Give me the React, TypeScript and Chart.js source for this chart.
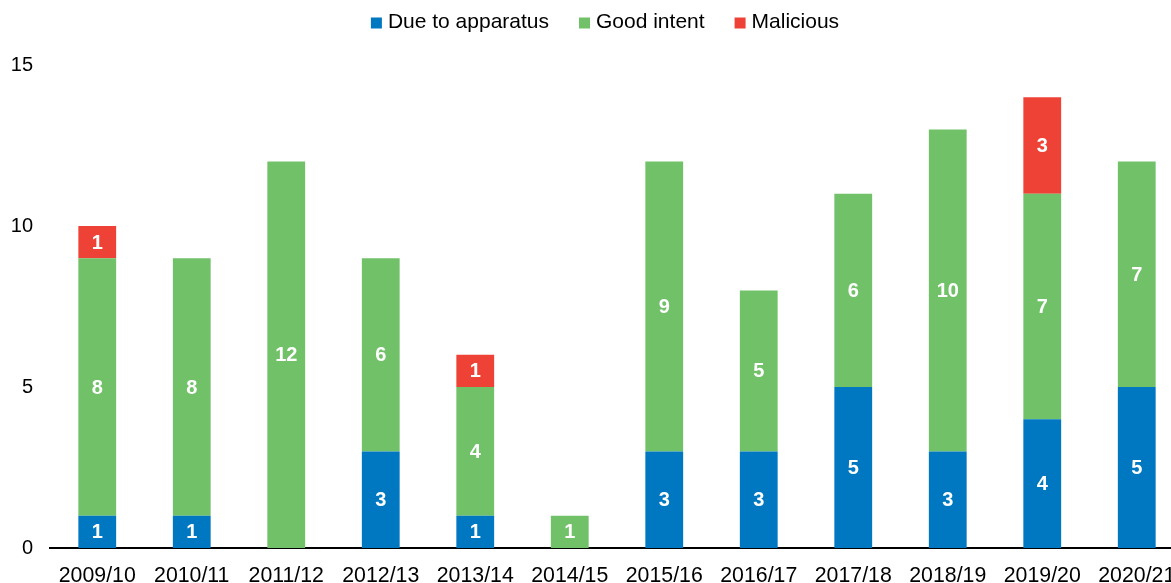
import React, { useEffect, useRef } from "react";
import { Chart, registerables } from "chart.js";

Chart.register(...registerables);

const categories = ["2009/10", "2010/11", "2011/12", "2012/13", "2013/14", "2014/15", "2015/16", "2016/17", "2017/18", "2018/19", "2019/20", "2020/21"];
const dueToApparatus = [1, 1, 0, 3, 1, 0, 3, 3, 5, 3, 4, 5];
const goodIntent = [8, 8, 12, 6, 4, 1, 9, 5, 6, 10, 7, 7];
const malicious = [1, 0, 0, 0, 1, 0, 0, 0, 0, 0, 3, 0];
const yTicks = [0, 5, 10, 15];

const FONT = "'Liberation Sans', Arial, sans-serif";

const labelPlugin = {
  id: "segLabels",
  afterDatasetsDraw(chart: any) {
    const ctx = chart.ctx;
    ctx.save();
    ctx.fillStyle = "#ffffff";
    ctx.font = `bold 20px ${FONT}`;
    ctx.textAlign = "center";
    ctx.textBaseline = "middle";
    chart.data.datasets.forEach((ds: any, di: number) => {
      const meta = chart.getDatasetMeta(di);
      meta.data.forEach((el: any, i: number) => {
        const v = ds.data[i];
        if (!v) return;
        ctx.fillText(String(v), el.x, (el.y + el.base) / 2 + 1);
      });
    });
    ctx.restore();
  },
};

const legendPlugin = {
  id: "customLegend",
  afterDraw(chart: any) {
    const ctx = chart.ctx;
    ctx.save();
    ctx.font = `21px ${FONT}`;
    ctx.textBaseline = "middle";
    ctx.textAlign = "left";
    const box = 11, gap = 6, itemGap = 30;
    const items = chart.data.datasets.map((ds: any) => ({
      label: ds.label,
      color: ds.backgroundColor,
      w: box + gap + ctx.measureText(ds.label).width,
    }));
    const total = items.reduce((s: number, it: any) => s + it.w, 0) + itemGap * (items.length - 1);
    let x = 605 - total / 2;
    const cy = 23;
    items.forEach((it: any) => {
      ctx.fillStyle = it.color;
      ctx.fillRect(x, cy - box / 2, box, box);
      ctx.fillStyle = "#000";
      ctx.fillText(it.label, x + box + gap, cy - 1);
      x += it.w + itemGap;
    });
    ctx.restore();
  },
};

export default function App() {
  const ref = useRef<HTMLCanvasElement | null>(null);
  useEffect(() => {
    if (!ref.current) return;
    const chart = new Chart(ref.current, {
      type: "bar",
      data: {
        labels: categories,
        datasets: [
          { label: "Due to apparatus", data: dueToApparatus, backgroundColor: "#0078C1" },
          { label: "Good intent", data: goodIntent, backgroundColor: "#71C168" },
          { label: "Malicious", data: malicious, backgroundColor: "#EE4237" },
        ],
      },
      options: {
        responsive: false,
        animation: false,
        devicePixelRatio: 1,
        layout: { padding: { top: 65, right: 0, left: 0, bottom: 0 } },
        datasets: { bar: { categoryPercentage: 0.8, barPercentage: 0.5 } },
        plugins: {
          tooltip: { enabled: false },
          legend: { display: false },
        },
        scales: {
          x: {
            stacked: true,
            grid: { display: false, drawTicks: false },
            border: { display: true, color: "#000", width: 2 },
            ticks: { color: "#000", font: { family: FONT, size: 21.3 }, padding: 15, maxRotation: 0, autoSkip: false },
            afterFit(scale: any) {
              scale.height = 35;
              scale.paddingLeft = 0;
              scale.paddingRight = 0;
            },
          },
          y: {
            stacked: true,
            min: 0,
            max: 15,
            afterBuildTicks(scale: any) { scale.ticks = yTicks.map((v) => ({ value: v })); },
            grid: { display: false, drawTicks: false },
            border: { display: false },
            ticks: { color: "#000", font: { family: FONT, size: 20 }, padding: 17 },
            afterFit(scale: any) { scale.width = 50; },
          },
        },
      },
      plugins: [labelPlugin, legendPlugin],
    });
    return () => chart.destroy();
  }, []);
  return (
    <div style={{ position: "fixed", left: 0, top: 0, width: 1171, height: 583, overflow: "hidden", background: "#fff" }}>
      <canvas ref={ref} width={1184} height={583} style={{ width: 1184, height: 583, display: "block" }} />
    </div>
  );
}
